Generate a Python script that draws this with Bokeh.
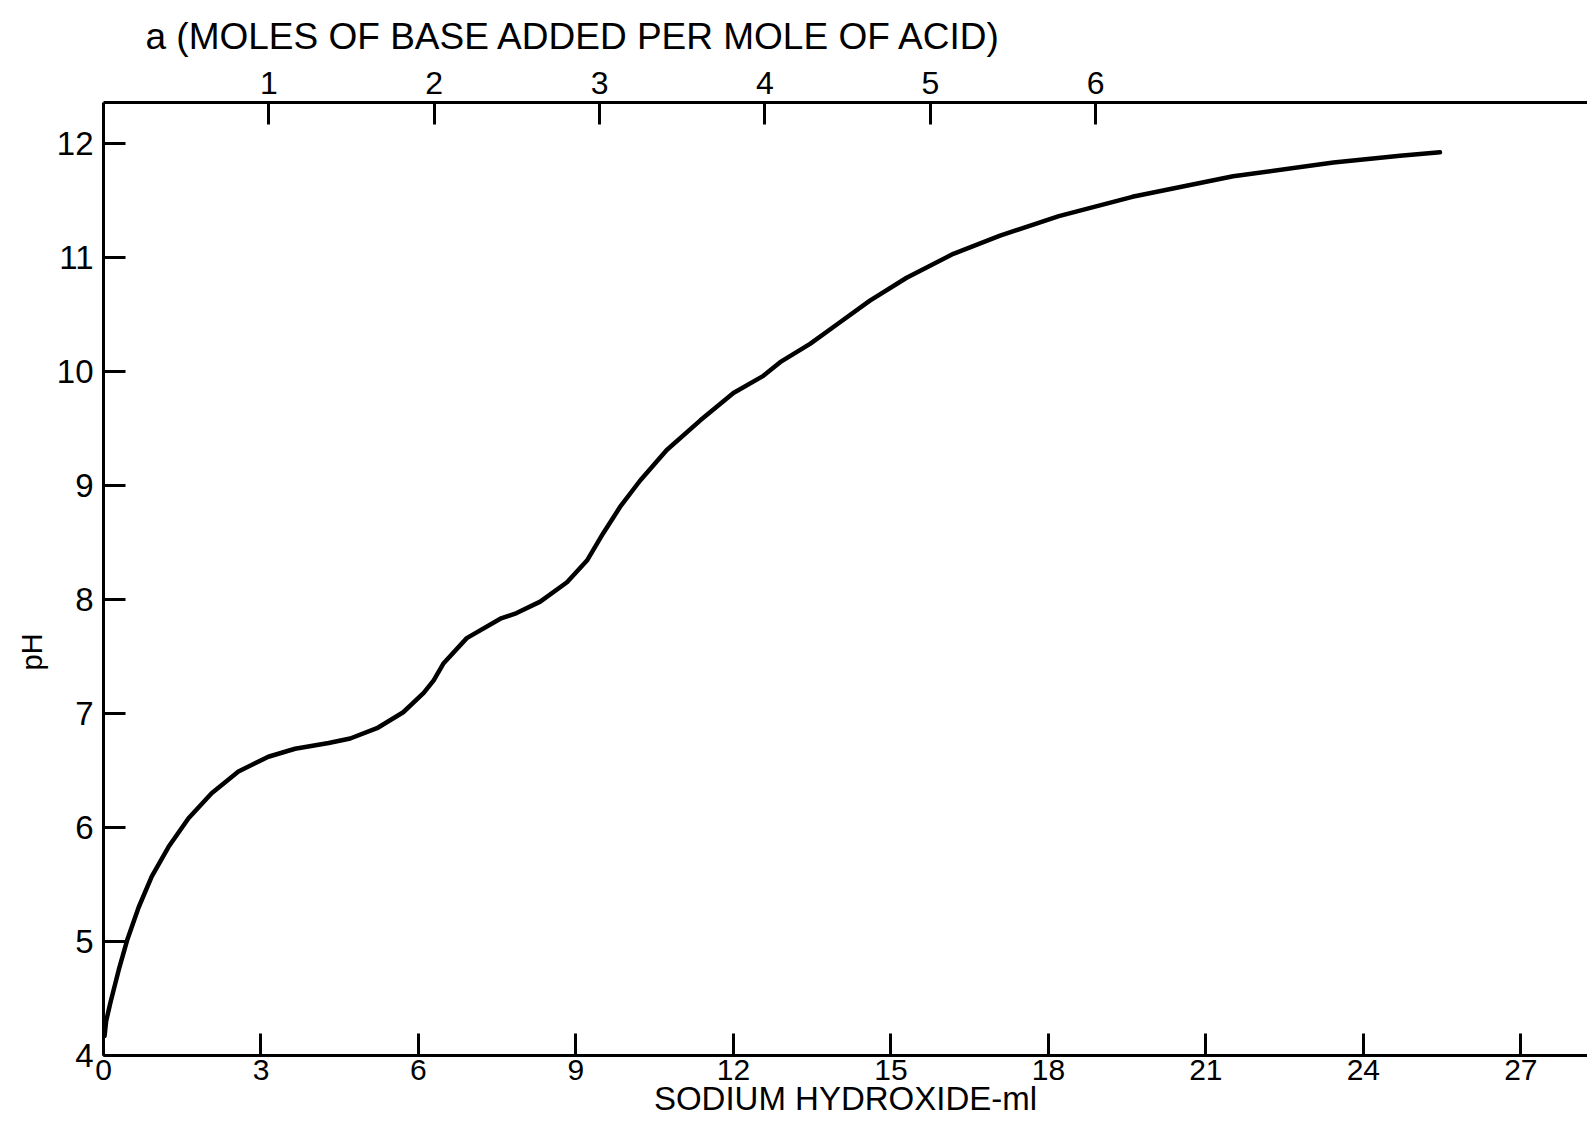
from bokeh.plotting import figure
from bokeh.models import LinearAxis, Range1d, FixedTicker, Title
from bokeh.embed import file_html
from bokeh.resources import INLINE

# Titration curve: pH vs. ml of sodium hydroxide added
ml = [0.02, 0.05, 0.13, 0.29, 0.45, 0.67, 0.92, 1.24, 1.62, 2.06, 2.57, 3.14, 3.65,
      4.29, 4.70, 5.21, 5.71, 6.10, 6.29, 6.48, 6.92, 7.56, 7.87, 8.32, 8.83,
      9.21, 9.52, 9.84, 10.22, 10.73, 11.37, 12.00, 12.57, 12.89, 13.46, 14.03,
      14.60, 15.30, 16.19, 17.08, 18.20, 19.60, 21.52, 23.43, 24.70, 25.46]
ph = [4.17, 4.30, 4.46, 4.75, 5.01, 5.30, 5.57, 5.83, 6.08, 6.30, 6.49, 6.62, 6.69,
      6.74, 6.78, 6.87, 7.01, 7.18, 7.29, 7.44, 7.66, 7.83, 7.88, 7.98, 8.15,
      8.34, 8.58, 8.81, 9.04, 9.31, 9.57, 9.81, 9.96, 10.08, 10.24, 10.43,
      10.62, 10.82, 11.03, 11.19, 11.36, 11.53, 11.71, 11.83, 11.89, 11.92]

x_ticks = [0, 3, 6, 9, 12, 15, 18, 21, 24, 27]
y_ticks = [4, 5, 6, 7, 8, 9, 10, 11, 12]
a_ticks = [1, 2, 3, 4, 5, 6]
ML_PER_MOLE = 3.15

X_MAX = 28.27
Y_MIN, Y_MAX = 4.0, 12.357

FONT = "Liberation Sans"

p = figure(width=1587, height=1138, output_backend="svg", toolbar_location=None,
           x_range=Range1d(0, X_MAX), y_range=Range1d(Y_MIN, Y_MAX),
           x_axis_location=None, y_axis_location=None,
           min_border_left=103, min_border_right=0, min_border_top=102,
           min_border_bottom=83)
p.outline_line_color = None
p.grid.visible = False
p.background_fill_color = "white"
p.border_fill_color = "white"

p.extra_x_ranges = {"a": Range1d(0, X_MAX / ML_PER_MOLE)}

bottom = LinearAxis(ticker=FixedTicker(ticks=x_ticks))
left = LinearAxis(ticker=FixedTicker(ticks=y_ticks))
top = LinearAxis(x_range_name="a", ticker=FixedTicker(ticks=a_ticks))

for ax in [bottom, left, top]:
    ax.axis_line_color = "black"
    ax.axis_line_width = 3
    ax.major_tick_line_color = "black"
    ax.major_tick_line_width = 3
    ax.major_tick_in = 22
    ax.major_tick_out = 0
    ax.minor_tick_line_color = None
    ax.major_label_text_font = FONT
    ax.major_label_text_color = "black"
    ax.major_label_text_font_size = "32px"
    ax.axis_label_text_font = FONT
    ax.axis_label_text_font_style = "normal"
    ax.axis_label_text_color = "black"

bottom.major_label_text_font_size = "30px"
bottom.major_label_standoff = 4
bottom.axis_label = "SODIUM HYDROXIDE-ml"
bottom.axis_label_text_font_size = "33px"
bottom.axis_label_standoff = -3

left.major_label_standoff = 10
left.major_label_text_font_size = "33px"

top.major_label_standoff = 9

p.add_layout(bottom, "below")
p.add_layout(left, "left")
p.add_layout(top, "above")

# "pH" label placed beside the 7-8 region of the pH axis, as in the original
p.add_layout(Title(text="pH", text_font=FONT, text_font_style="normal",
                   text_font_size="29px", text_color="black",
                   align="left", offset=385, standoff=12), "left")

p.title.text = "a  (MOLES  OF BASE ADDED  PER MOLE   OF ACID)"
p.title.text_font = FONT
p.title.text_font_style = "normal"
p.title.text_font_size = "37px"
p.title.text_color = "black"
p.title.align = "left"
p.title.vertical_align = "top"
p.title.offset = 42
p.title.standoff = 20

p.line(ml, ph, line_color="black", line_width=4.5, line_join="round", line_cap="round")

open("out.html", "w").write(file_html(p, INLINE))
